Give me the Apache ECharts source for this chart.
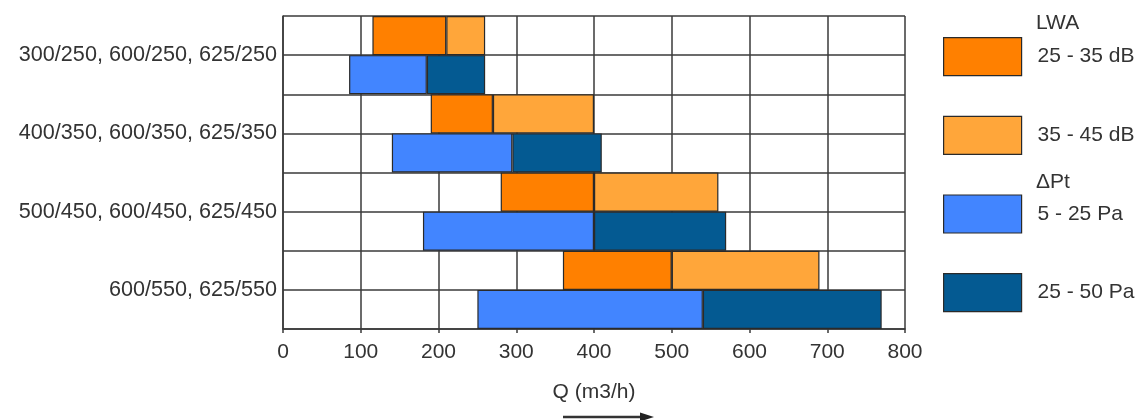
<!DOCTYPE html>
<html>
<head>
<meta charset="utf-8">
<script src="https://cdn.jsdelivr.net/npm/echarts@6/dist/echarts.min.js"></script>
<style>
html,body{margin:0;padding:0;background:#fff;}
#chart{width:1141px;height:420px;}
</style>
</head>
<body>
<div id="chart"></div>
<script>
const categories = ['300/250, 600/250, 625/250', '400/350, 600/350, 625/350', '500/450, 600/450, 625/450', '600/550, 625/550'];
const lwaStart = [115, 190, 280, 360];
const lwaMid   = [210, 270, 400, 500];
const lwaEnd   = [260, 400, 560, 690];
const ptStart  = [85, 140, 180, 250];
const ptMid    = [185, 295, 400, 540];
const ptEnd    = [260, 410, 570, 770];
const xTicks   = [0, 800, 100];
const seriesNames = ['25 - 35 dB', '35 - 45 dB', '5 - 25 Pa', '25 - 50 Pa'];
const colors = ['#FF8000', '#FFA63A', '#4285FF', '#045A92'];

const FONT = '"Liberation Sans", Arial, sans-serif';
const TXT = '#333333';
const GRID = '#3a3a3a';

const diff = (a, b) => a.map((v, i) => v - b[i]);

const base = (stack, data) => ({
  type: 'bar', stack: stack, data: data, silent: true,
  itemStyle: { color: 'transparent', borderWidth: 0 },
  emphasis: { disabled: true }, barGap: '0%', barCategoryGap: '0%'
});
const seg = (name, stack, data, color) => ({
  type: 'bar', name: name, stack: stack, data: data,
  itemStyle: { color: color, borderColor: '#2a2a2a', borderWidth: 1.2 },
  emphasis: { disabled: true }, barGap: '0%', barCategoryGap: '0%'
});

const chart = echarts.init(document.getElementById('chart'), null, { renderer: 'canvas' });
chart.setOption({
  animation: false,
  backgroundColor: '#ffffff',
  textStyle: { fontFamily: FONT },
  grid: { left: 283, right: 236, top: 16, bottom: 91, containLabel: false },
  xAxis: {
    type: 'value', min: xTicks[0], max: xTicks[1], interval: xTicks[2],
    name: 'Q (m3/h)', nameLocation: 'middle', nameGap: 53,
    nameTextStyle: { fontSize: 21, color: TXT, fontFamily: FONT },
    axisLine: { show: true, lineStyle: { color: GRID, width: 1.5 } },
    axisTick: { show: true, length: 4, lineStyle: { color: GRID, width: 1.5 } },
    axisLabel: { fontSize: 21, color: TXT, margin: 13, fontFamily: FONT },
    splitLine: { show: true, lineStyle: { color: GRID, width: 1.5 } }
  },
  yAxis: [{
    type: 'category', data: categories, inverse: true,
    axisLine: { show: true, lineStyle: { color: GRID, width: 1.5 } },
    axisTick: { show: false },
    axisLabel: { fontSize: 21.6, color: TXT, margin: 6, fontFamily: FONT },
    splitLine: { show: false }
  }, {
    type: 'value', min: 0, max: 8, interval: 1, position: 'left',
    axisLine: { show: false }, axisTick: { show: false }, axisLabel: { show: false },
    splitLine: { show: true, lineStyle: { color: GRID, width: 1.5 } }
  }],
  legend: {
    data: seriesNames, orient: 'vertical', left: 943, top: 37, padding: 0,
    itemWidth: 78, itemHeight: 38, itemGap: 39.5,
    icon: 'rect', selectedMode: false,
    itemStyle: { borderColor: '#2a2a2a', borderWidth: 1.2 },
    textStyle: { fontSize: 21, color: TXT, fontFamily: FONT, padding: [0, 0, 0, 11] }
  },
  graphic: [
    { type: 'text', left: 1036, top: 13, style: { text: 'LWA', font: '21px ' + FONT, fill: TXT } },
    { type: 'text', left: 1036, top: 172, style: { text: 'ΔPt', font: '21px ' + FONT, fill: TXT } },
    { type: 'line', shape: { x1: 563, y1: 417, x2: 642, y2: 417 }, style: { stroke: '#333', lineWidth: 2.5 } },
    { type: 'polygon', shape: { points: [[640, 412.5], [654, 417], [640, 421.5]] }, style: { fill: '#222' } }
  ],
  series: [
    base('lwa', lwaStart),
    seg(seriesNames[0], 'lwa', diff(lwaMid, lwaStart), colors[0]),
    seg(seriesNames[1], 'lwa', diff(lwaEnd, lwaMid), colors[1]),
    base('pt', ptStart),
    seg(seriesNames[2], 'pt', diff(ptMid, ptStart), colors[2]),
    seg(seriesNames[3], 'pt', diff(ptEnd, ptMid), colors[3])
  ]
});
</script>
</body>
</html>
